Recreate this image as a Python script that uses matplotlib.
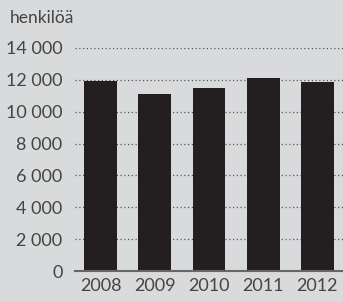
import matplotlib.pyplot as plt
from matplotlib.ticker import FuncFormatter

years = ["2008", "2009", "2010", "2011", "2012"]
persons = [11950, 11110, 11490, 12120, 11880]
yticks = [0, 2000, 4000, 6000, 8000, 10000, 12000, 14000]

bg = "#d9dadb"
txt = "#444444"

plt.rcParams['font.family'] = ['Lato', 'DejaVu Sans']

fig = plt.figure(figsize=(3.43, 3.02), dpi=100, facecolor=bg)
ax = fig.add_axes([75 / 343, 1 - 271 / 302, 268 / 343, 223 / 302], facecolor=bg)

x = range(len(years))
ax.bar(x, persons, width=0.61, color="#231f20", zorder=3)

ax.set_xlim(-0.48, 4.48)
ax.set_ylim(0, 14000)
ax.set_yticks(yticks)
ax.yaxis.set_major_formatter(FuncFormatter(lambda v, p: f"{int(v):,}".replace(",", " ")))
ax.set_xticks(list(x))
ax.set_xticklabels(years)

ax.grid(axis="y", linestyle=(0, (1, 2)), color="#555555", linewidth=0.9, zorder=1)
for s in ["top", "right", "left"]:
    ax.spines[s].set_visible(False)
ax.spines["bottom"].set_color("#666666")
ax.spines["bottom"].set_linewidth(1.5)
ax.spines["bottom"].set_zorder(4)

ax.tick_params(axis="y", length=0, pad=9, labelsize=13, labelcolor=txt)
ax.tick_params(axis="x", length=0, pad=5, labelsize=13, labelcolor=txt)

fig.text(10 / 343, 1 - 18 / 302, "henkilöä", fontsize=12.5, color=txt, va="center", ha="left")

fig.savefig("out.png", dpi=100, facecolor=bg)
